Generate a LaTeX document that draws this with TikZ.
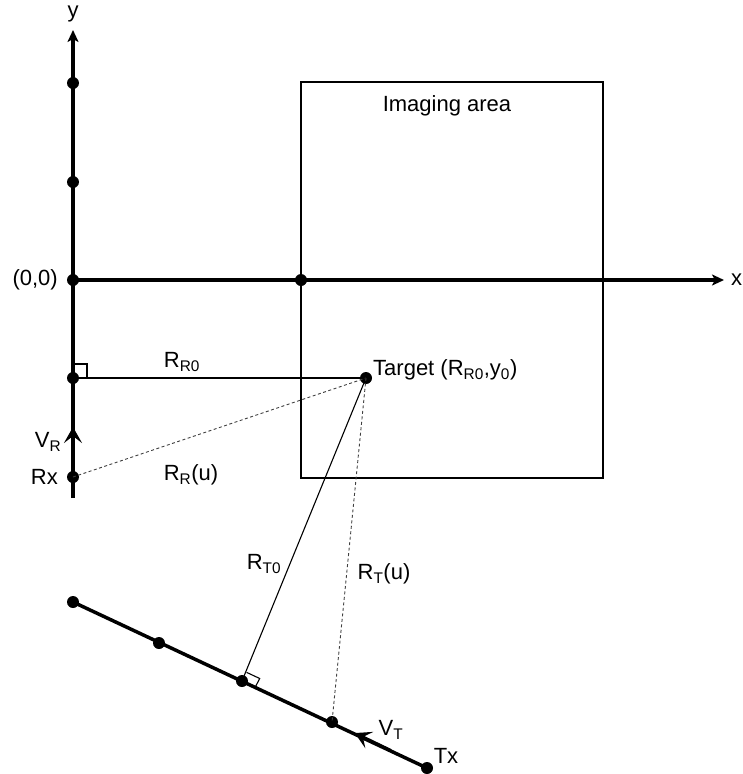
\documentclass[tikz,border=0pt]{standalone}
\usepackage{fontspec}
\setmainfont{Liberation Sans}
\usetikzlibrary{arrows.meta,calc}
\begin{document}
\begin{tikzpicture}[x=1pt,y=-1pt,
  dot/.style={circle,fill=black,inner sep=0pt,minimum size=12pt},
  axisline/.style={line width=3.5pt},
  thinline/.style={line width=1.1pt},
  dashline/.style={line width=0.9pt,dash pattern=on 3pt off 2.5pt,black!75},
  lbl/.style={font=\fontsize{22}{26}\selectfont,inner sep=0pt},
  axtip/.style={-{Stealth[length=12pt,width=11pt,inset=3pt]}},
  veltip/.style={-{Stealth[length=16pt,width=18pt,inset=7pt]}}]
\useasboundingbox (0,0) rectangle (742,774);

% imaging area
\draw[thinline] (301,82) rectangle (603,478);
\node[lbl] (area) at (447,106) {Imaging area};

% points
\coordinate (ybot) at (73,498);
\coordinate (ytop) at (73,30);
\coordinate (xtip) at (724,280);
\node[dot] (Y1) at (73,83) {};
\node[dot] (Y2) at (73,182) {};
\node[dot] (O) at (73,280) {};
\node[dot] (F) at (73,378) {};
\node[dot] (Rx) at (73,477) {};
\node[dot] (X1) at (301,280) {};
\node[dot] (Tg) at (366,378) {};
\node[dot] (T1) at (73,602) {};
\node[dot] (T2) at (159,643) {};
\node[dot] (T3) at (242,681) {};
\node[dot] (T4) at (332,722) {};
\node[dot] (Tx) at (427,768) {};

% axes
\draw[axisline,axtip] (ybot) -- (ytop);
\draw[axisline,axtip] (O.center) -- (xtip);

% transmitter track
\draw[axisline] (T1.center) -- (Tx.center);

% velocity arrows
\draw[line width=3pt,veltip] (73,460) -- (73,427);
\draw[line width=3pt,veltip] ($(T4)!0.62!(Tx)$) -- ($(T4)!0.24!(Tx)$);

% ranges
\draw[thinline] (F.center) -- (Tg.center);
\draw[dashline] (Rx.center) -- (Tg.center);
\draw[thinline] (Tg.center) -- (T3.center);
\draw[dashline] (Tg.center) -- (T4.center);

% right angle markers
\draw[thinline] (73,364) -- (87,364) -- (87,378);
\draw[thinline] (246.5,672.3) -- (259.7,678.5) -- (255.2,687.2);

% labels
\node[lbl,anchor=base] (ylab) at (73,17) {y};
\node[lbl,anchor=west] (xlab) at (731,280) {x};
\node[lbl,anchor=east] (olab) at (58,280) {(0,0)};
\node[lbl] (rr0) at (182,362) {R\textsubscript{R0}};
\node[lbl,anchor=west] (tglab) at (373,370) {Target (R\textsubscript{R0},y\textsubscript{0})};
\node[lbl] (vr) at (48,442) {V\textsubscript{R}};
\node[lbl,anchor=east] (rxlab) at (58,477) {Rx};
\node[lbl] (rru) at (191,475) {R\textsubscript{R}(u)};
\node[lbl] (rt0) at (264,564) {R\textsubscript{T0}};
\node[lbl] (rtu) at (384,574) {R\textsubscript{T}(u)};
\node[lbl] (vt) at (391,730) {V\textsubscript{T}};
\node[lbl] (txlab) at (446,756) {Tx};
\end{tikzpicture}
\end{document}
